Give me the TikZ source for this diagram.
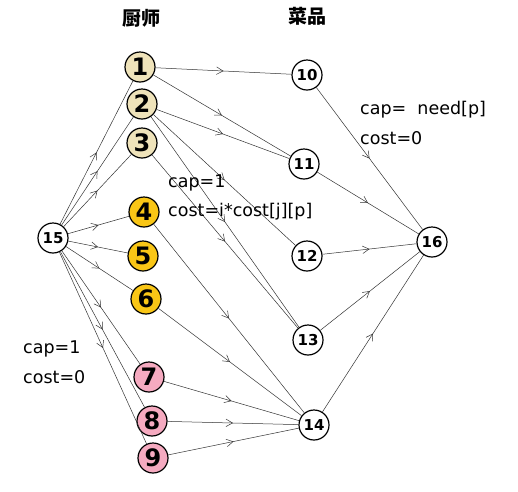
\documentclass[tikz,border=0pt]{standalone}
\usepackage{fontspec}
\setmainfont{DejaVu Sans}
\newfontfamily\cjk{Noto Sans CJK SC}
\usetikzlibrary{arrows.meta,decorations.markings}
\definecolor{cookbeige}{RGB}{239,227,186}
\definecolor{cookgold}{RGB}{249,198,22}
\definecolor{cookpink}{RGB}{245,170,192}
\begin{document}
\begin{tikzpicture}[x=1pt,y=-1pt,
  flow/.style={draw=black!80, line width=0.5pt, postaction={decorate},
    decoration={markings, mark=at position 0.5 with {\arrow[black!80]{Straight Barb[length=6.5pt,width=7.5pt,line width=0.5pt]}}}},
  basenode/.style={circle, draw=black, line width=1.2pt, minimum size=30pt, inner sep=0pt},
  cook/.style={basenode, font=\fontsize{24}{24}\selectfont\bfseries},
  cooka/.style={cook, fill=cookbeige},
  cookb/.style={cook, fill=cookgold},
  cookc/.style={cook, fill=cookpink},
  dish/.style={basenode, fill=white, font=\fontsize{15}{15}\selectfont\bfseries},
  lbl/.style={anchor=west, inner sep=0pt, font=\fontsize{17.5}{17.5}\selectfont},
  title/.style={inner sep=0pt, font=\cjk\fontsize{19}{19}\selectfont\bfseries}
]
\useasboundingbox (0,0) rectangle (518,491);
\fill[white] (0,0) rectangle (518,491);
% titles
\node[title] (tcook) at (141,18) {厨师};
\node[title] (tdish) at (307,16) {菜品};
% cooks
\node[cooka] (n1) at (140,67) {1};
\node[cooka] (n2) at (142,104) {2};
\node[cooka] (n3) at (142,143) {3};
\node[cookb] (n4) at (144,212) {4};
\node[cookb] (n5) at (143,256) {5};
\node[cookb] (n6) at (146,299) {6};
\node[cookc] (n7) at (149,377) {7};
\node[cookc] (n8) at (152,421) {8};
\node[cookc] (n9) at (153,458) {9};
% dishes
\node[dish] (n10) at (307,75) {10};
\node[dish] (n11) at (304,164) {11};
\node[dish] (n12) at (307,256) {12};
\node[dish] (n13) at (308,340) {13};
\node[dish] (n14) at (314,425) {14};
% source and sink
\node[dish] (n15) at (53,238) {15};
\node[dish] (n16) at (432,242) {16};
% edges source -> cooks
\foreach \c in {1,...,9} \draw[flow] (n15) -- (n\c);
% cooks -> dishes
\draw[flow] (n1) -- (n10);
\draw[flow] (n1) -- (n11);
\draw[flow] (n2) -- (n11);
\draw[flow] (n2) -- (n12);
\draw[flow] (n2) -- (n13);
\draw[flow] (n3) -- (n13);
\draw[flow] (n4) -- (n14);
\draw[flow] (n6) -- (n14);
\draw[flow] (n7) -- (n14);
\draw[flow] (n8) -- (n14);
\draw[flow] (n9) -- (n14);
% dishes -> sink
\foreach \d in {10,...,14} \draw[flow] (n\d) -- (n16);
% labels
\node[lbl] (l1) at (168,183) {cap=1};
\node[lbl] (l2) at (168,212) {cost=i*cost[j][p]};
\node[lbl] (l3) at (360,110) {cap=\ \ need[p]};
\node[lbl] (l4) at (360,138) {cost=0};
\node[lbl] (l5) at (23,349) {cap=1};
\node[lbl] (l6) at (23,377) {cost=0};
\end{tikzpicture}
\end{document}
